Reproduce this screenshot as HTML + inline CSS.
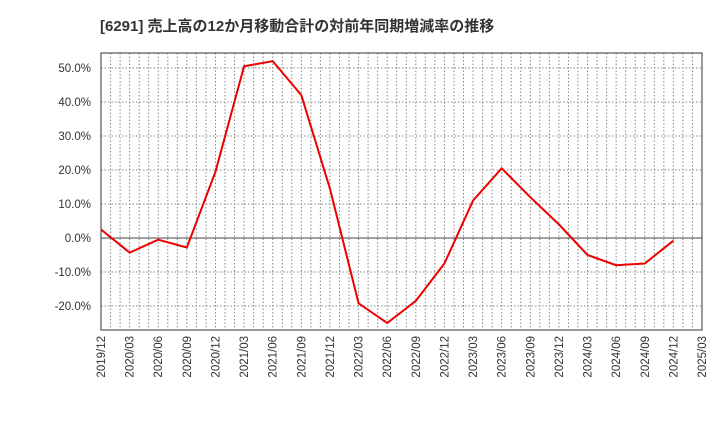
<!DOCTYPE html>
<html><head><meta charset="utf-8"><style>
body{margin:0;background:#fff;}
svg text{font-family:"Liberation Sans","Noto Sans CJK JP",sans-serif;}
</style></head><body>
<svg id="c" width="720" height="440" xmlns="http://www.w3.org/2000/svg">
<text x="100" y="31" font-size="15" font-weight="bold" fill="#333">[6291]  売上高の12か月移動合計の対前年同期増減率の推移</text>
<g id="grid"></g><g id="axes"></g><g id="series"></g>
</svg>
<script>
const categories=["2019/12","2020/03","2020/06","2020/09","2020/12","2021/03","2021/06","2021/09","2021/12","2022/03","2022/06","2022/09","2022/12","2023/03","2023/06","2023/09","2023/12","2024/03","2024/06","2024/09","2024/12","2025/03"];
const values=[2.5,-4.3,-0.5,-2.8,19.5,50.5,52,42,14.5,-19.2,-25,-18.5,-7.5,11,20.5,12,4,-5,-8,-7.5,-0.8,null];
const yTicks=[-20,-10,0,10,20,30,40,50];
const yTickLabels=["-20.0%","-10.0%","0.0%","10.0%","20.0%","30.0%","40.0%","50.0%"];
const L=101,R=702,T=53,B=330,yMin=-27.06,yMax=54.4;
const NS="http://www.w3.org/2000/svg";
const x=i=>L+(R-L)*i/(categories.length-1);
const y=v=>B-(v-yMin)/(yMax-yMin)*(B-T);
function mk(t,a,p){const e=document.createElementNS(NS,t);for(const k in a)e.setAttribute(k,a[k]);p.appendChild(e);return e;}
const g=document.getElementById('grid'),ax=document.getElementById('axes'),s=document.getElementById('series');
const nm=(categories.length-1)*3;
for(let m=1;m<nm;m++){const xx=L+(R-L)*m/nm;const e=mk('line',{x1:xx,x2:xx,y1:T,y2:B,stroke:'#888','stroke-dasharray':'1.5,2','stroke-width':1},g);

}
yTicks.forEach((v,i)=>{const yy=y(v);const e=mk('line',{x1:L,x2:R,y1:yy,y2:yy,stroke:v===0?'#444':'#888','stroke-dasharray':v===0?'none':'1.5,2','stroke-width':1},g);


const t=mk('text',{x:L-10,y:yy+4,'text-anchor':'end','font-size':11.5,fill:'#333'},ax);t.textContent=yTickLabels[i];

});
categories.forEach((c,i)=>{const xx=x(i);const t=mk('text',{transform:`translate(${xx+4},${B+6}) rotate(-90)`,'text-anchor':'end','font-size':11.5,fill:'#333'},ax);t.textContent=c;

});
const fr=mk('rect',{x:L,y:T,width:R-L,height:B-T,fill:'none',stroke:'#333','stroke-width':1},ax);


const pts=values.map((v,i)=>v===null?null:x(i)+','+y(v)).filter(p=>p).join(' ');
const pl=mk('polyline',{points:pts,fill:'none',stroke:'#ee0000','stroke-width':2,'stroke-linejoin':'miter'},s);


</script>
</body></html>
